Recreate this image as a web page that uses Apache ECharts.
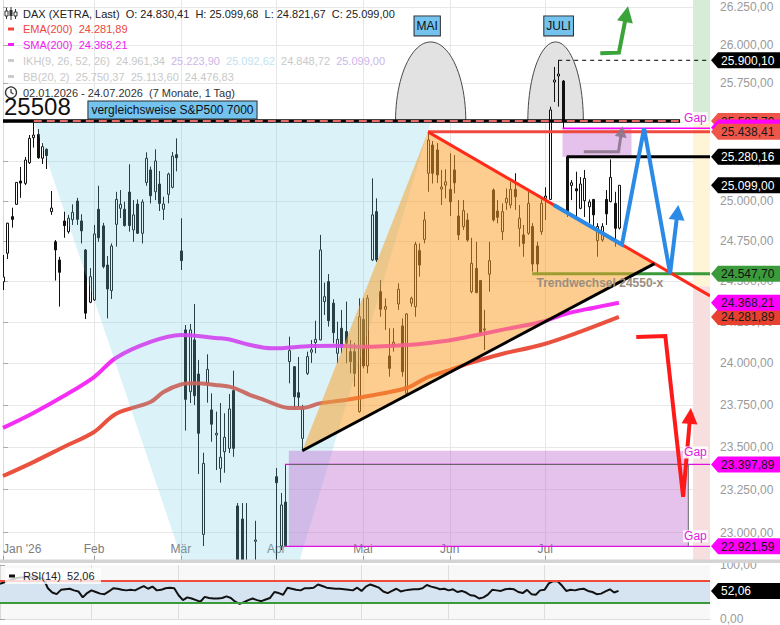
<!DOCTYPE html>
<html>
<head>
<meta charset="utf-8">
<script src="https://cdn.jsdelivr.net/npm/echarts@6.0.0/dist/echarts.min.js"></script>
<style>
html,body{margin:0;padding:0;background:#fff;}
#chart{width:780px;height:625px;}
</style>
</head>
<body>
<div id="chart"></div>
<script>
// ---------------- DATA ----------------
// trading days (Xetra 2026) + empty future days on the axis
const monthDays = [
  ['01', [2,5,6,7,8,9,12,13,14,15,16,19,20,21,22,23,26,27,28,29,30]],
  ['02', [2,3,4,5,6,9,10,11,12,13,16,17,18,19,20,23,24,25,26,27]],
  ['03', [2,3,4,5,6,9,10,11,12,13,16,17,18,19,20,23,24,25,26,27,30,31]],
  ['04', [1,2,7,8,9,10,13,14,15,16,17,20,21,22,23,24,27,28,29,30]],
  ['05', [4,5,6,7,8,11,12,13,14,15,18,19,20,21,22,25,26,27,28,29]],
  ['06', [1,2,3,4,5,8,9,10,11,12,15,16,17,18,19,22,23,24,25,26,29,30]],
  ['07', [1,2,3,6,7,8,9,10,13,14,15,16,17,20,21,22,23,24,27,28,29,30,31]],
  ['08', [3,4,5,6,7,10,11,12,13,14,17,18,19,20,21,24]]
];
const monthNames = ["Jan '26", 'Feb', 'Mär', 'Apr', 'Mai', 'Jun', 'Jul', 'Aug'];

// daily candles [open, high, low, close]
const ohlc = [
[24497,24663,24447,24527],[24674,24863,24638,24861],[24902,24958,24833,24885],[24979,25119,24975,25117],[25126,25215,25020,25113],
[25111,25278,25100,25259],[25242,25418,25234,25397],[25401,25499,25338,25418],[25422,25456,25267,25273],[25270,25367,25234,25344],
[25327,25333,25202,25287],[24933,25063,24913,24956],[24745,24756,24505,24694],[24632,24652,24345,24556],[24875,24933,24770,24846],
[24808,24913,24796,24892],[24883,24979,24850,24929],[25000,25020,24850,24885],[24875,24917,24735,24813],[24694,24700,24269,24305],
[24372,24582,24366,24529],[24386,24850,24380,24794],[24948,25096,24745,24770],[24844,24863,24580,24591],[24601,24657,24273,24453],
[24443,24735,24392,24719],[24854,25058,24715,25010],[24954,25069,24893,24979],[24948,24996,24840,24846],[25056,25232,24808,24846],
[24819,25006,24745,24913],[24981,25010,24794,24798],[24798,25010,24735,24994],[25117,25308,25096,25270],[25196,25217,24985,25033],
[25058,25327,25006,25253],[25107,25189,24937,24985],[24948,25027,24881,24981],[25042,25179,24985,25170],[25086,25310,25079,25284],
[25293,25397,25187,25273],[24688,24892,24570,24628],[24203,24233,23598,23784],[23830,24239,23762,24203],[24142,24361,23750,23806],
[23936,24021,23342,23582],[22990,23467,22923,23404],[23880,24055,23764,23964],[23721,23820,23532,23636],[23572,23711,23365,23582],
[23375,23762,23291,23440],[23473,23701,23349,23558],[23493,23816,23465,23727],[23836,23956,23443,23493],[23155,23172,22600,22700],
[23079,23172,22500,22620],[22750,23172,22550,22680],[22700,22830,22600,22780],[22950,23069,22780,22958],[22800,22840,22600,22700],
[22680,22820,22550,22760],[22760,22830,22620,22700],[22700,22840,22650,22800],[23326,23377,22750,23291],[22923,23231,22900,23161],
[23178,23397.89,22921.59,22925],[24011,24162,23880,24077],[23980,23984,23725,23800],[23824,24039,23739,23796],[23552,23751,23479,23725],
[23940,24071,23930,24041],[24068,24142,24003,24082],[24126,24259,24061,24146],[24142,24788,24140,24694],[24376,24492,24294,24406],
[24499,24545,24223,24259],[24366,24390,24122,24186],[24061,24253,24001,24146],[24213,24325,24061,24111],[24193,24376,24001,24122],
[24071,24142,23940,24011],[24071,24124,23860,23940],[23711,24396,23705,24283],[24267,24396,23970,23985],[23985,24416,23940,24396],
[24632,25143,24625,24913],[24933,25017,24620,24632],[24437,24509,24283,24329],[24329,24396,24203,24345],[24045,24213,23920,23970],
[24111,24213,24071,24128],[24361,24488,24325,24451],[24227,24273,23920,23950],[23820,24304,23815,24300],[24366,24406,24345,24396],
[24345,24745,24283,24729],[24690,24735,24529,24601],[24760,24933,24735,24881],[25175,25438.41,25058,25386],[25354,25380,25110,25175],
[25323,25367,25113,25164],[25075,25196,24975,25088],[25100,25200,25017,25121],[25073,25302,24906,24995],[25196,25291,25048,25115],
[24906,25006,24756,24788],[24840,25006,24819,24940],[24881,24923,24745,24756],[24437,24770,24427,24611],[24580,24745,24427,24431],
[24505,24509,24172,24186],[24203,24325,24081,24209],[24544,24745,24437,24628],[25069,25079,24871,24881],[24937,25006,24860,24898],
[24808,24985,24756,24933],[24989,25079,24944,25017],[24975,25121,24954,25073],[25073,25175,24944,25027],[24829,24975,24715,24892],
[24788,24850,24652,24735],[24798,25058,24788,24985],[24840,24861,24560,24607],[24719,24745,24547.70,24607],[24808,25010,24788,24985],
[25017,25086,24881,25031],[25010,25600,25006,25579],[25759,25857,25630,25772],[25798,25900.10,25600,25811],[25765,25772,25462,25514],
[25280.16,25280.16,24900,24931],[25098,25132,25006,25115],[25077,25185,24900,25064],[24954,25151,24948,25107],[25002,25196,24900,25143],
[24964,25010,24861,24994],[25010,25010,24829,24913],[24752,24861,24652,24840],[24756,24861,24745,24840],[25010,25069,24850,24919],
[24996,25263,24992,25149],[24985,25058,24715,24829],[24830.41,25099.68,24821.67,25099.00]
];

// moving averages read at sample days [dayIndex, value]
const emaPts = [[0,23330],[7,23412],[14,23501],[21,23590],[26,23697],[34,23768],[37,23828],[41,23873],[44,23880],[49,23870],
  [53,23854],[57,23810],[60,23783],[66,23733],[69,23733],[73,23760],[78,23777],[83,23798],[93,23852],[98,23918],[103,23960],
  [107,23997],[115,24057],[124,24111],[133,24191],[142,24281.89]];
const smaPts = [[0,23614],[7,23703],[14,23804],[21,23918],[26,24033],[34,24130],[41,24172],[45,24166],[49,24154],[52,24146],
  [57,24111],[62,24091],[71,24105],[77,24107],[83,24100],[93,24111],[102,24136],[107,24160],[115,24203],[124,24251],[130,24303],
  [136,24337],[142,24368.21]];

// RSI(14)
const rsi = [65,68,71,74,76,77,78,78,77,76,74,57,49,46,54,55,56,53,51,40,48,53,50,47,46,51,57,56,54,53,
  54,53,57,61,56,60,53,54,57,58,57,44,35,40,38,35,32,41,39,38,38,39,42,39,32,28,31,35,38,35,
  33,36,39,50,48,45,58,56,54,53,57,57,58,64,61,58,57,56,56,55,54,53,58,52,60,64,61,58,51,48,
  52,56,51,53,54,55,55,57,63,60,58,55,56,53,55,50,52,49,44,43,38,40,45,54,53,52,55,56,55,50,
  48,54,46,45,53,54,66,70,70,62,52,54,53,55,56,52,50,46,47,51,55,49,52.06];

const priceTicks = [23000,23250,23500,23750,24000,24250,24500,24750,25000,25250,25500,25750,26000,26250];
const rsiTicks = [0, 100];

// drawn annotations, anchored at [dayIndex, price]
const bandX = [159.1, 163];
const bandLevels = [26295.7, 25507.79, 24470, 22842.7];
const bandColors = ['#d6ecd6', '#fdf5d6', '#f8dfdf'];
const cyanZone = [[7.1,25507.79],[98.7,25507.79],[68.4,22842.7],[41.3,22842.7]];
const triLow = [69, 23479], triHigh = [98, 25438.41], triApex = [150.2, 24610];
const gapTopBox = [[129,25462],[144.9,25462],[144.9,25280.16],[129,25280.16]];
const gapLowBox = [[65.9,23479],[158,23479],[158,22921.59],[65.9,22921.59]];
const bells = [{c:98.6, w:8.1, base:25507.79, peak:26020}, {c:127.4, w:6.4, base:25507.79, peak:26020}];
const blueRoute = [[127,24975],[142.7,24728],[147.8,25461],[153.8,24547.7],[155.7,24975]];
const redRoute = [[146,24160],[152.7,24166],[156.8,23208],[158.6,23733]];
const greenRoute = [[137.7,25946],[142,25950],[144.1,26255]];
const grayRoute = [[133.9,25311],[141.9,25311],[142.8,25475]];
const tagList = [
  {v:25900.10, bg:'#000000', fg:'#ffffff'},
  {v:25507.79, bg:'#ef5548', fg:'#1a1a1a'},
  {v:25466, bg:'#ff00ff', fg:'#1a1a1a', noText:true},
  {v:25438.41, bg:'#ef5548', fg:'#1a1a1a'},
  {v:25280.16, bg:'#000000', fg:'#ffffff'},
  {v:25099.00, bg:'#000000', fg:'#ffffff'},
  {v:24547.70, bg:'#3b9b3b', fg:'#111111'},
  {v:24281.89, bg:'#e8412f', fg:'#1a1a1a'},
  {v:24368.21, bg:'#ff00ff', fg:'#1a1a1a'},
  {v:23397.89, bg:'#ff00ff', fg:'#1a1a1a'},
  {v:22921.59, bg:'#ff00ff', fg:'#1a1a1a'}
];
const rsiTag = [{v:52.06, bg:'#000000', fg:'#ffffff'}];

// ---------------- HELPERS ----------------
const LN = Math.log;
const Y_MIN = 22842.7, Y_MAX = 26295.7, X_END = 163, LAST = 142;
const FONT = '"Liberation Sans", Arial, sans-serif';
function de(v, d) {
  d = d === undefined ? 2 : d;
  let s = Math.abs(v).toFixed(d).split('.');
  let a = s[0].replace(/\B(?=(\d{3})+(?!\d))/g, '.');
  return (v < 0 ? '-' : '') + a + (d ? ',' + s[1] : '');
}
const dates = [], monthStart = {};
monthDays.forEach(function (md, mi) {
  md[1].forEach(function (d, k) {
    if (k === 0) monthStart[dates.length] = mi;
    dates.push('2026-' + md[0] + '-' + String(d).padStart(2, '0'));
  });
});
const isLabel = function (i) { return monthStart[i] !== undefined && i <= LAST; };
const isGrid = function (i) { return monthStart[i] !== undefined && i > 0 && i <= LAST; };
const toY = function (q) { return [q[0], LN(q[1])]; };

function poly(pts, fill, z, stroke, lw) {
  return {
    type: 'custom', xAxisIndex: 1, yAxisIndex: 0, z: z, clip: true, silent: true,
    data: [toY(pts[0])],
    renderItem: function (params, api) {
      return { type: 'polygon', shape: { points: pts.map(function (q) { return api.coord(toY(q)); }) },
        style: { fill: fill, stroke: stroke || null, lineWidth: lw || 0 } };
    }
  };
}
function route(pts, color, width, z, opt) {
  opt = opt || {};
  return {
    type: 'custom', xAxisIndex: 1, yAxisIndex: 0, z: z, clip: opt.noclip ? false : true, silent: true,
    data: [toY(pts[0])],
    renderItem: function (params, api) {
      let P = pts.map(function (q) { return api.coord(toY(q)); });
      const children = [];
      if (opt.arrow) {
        const b = P[P.length - 1], a = P[P.length - 2];
        const dx = b[0] - a[0], dy = b[1] - a[1], L = Math.hypot(dx, dy), ux = dx / L, uy = dy / L;
        const hl = opt.hl || 15, hw = opt.hw || 8;
        const base = [b[0] - ux * hl, b[1] - uy * hl];
        P = P.slice(0, -1).concat([[base[0] + ux * 2, base[1] + uy * 2]]);
        children.push({ type: 'polygon', shape: { points: [b, [base[0] - uy * hw, base[1] + ux * hw], [base[0] + uy * hw, base[1] - ux * hw]] },
          style: { fill: color } });
      }
      children.unshift({ type: 'polyline', shape: { points: P },
        style: { stroke: color, lineWidth: width, fill: null, lineDash: opt.dash || null, lineJoin: 'miter' } });
      return { type: 'group', children: children };
    }
  };
}
function bellSeries(b) {
  return {
    type: 'custom', xAxisIndex: 1, yAxisIndex: 0, z: 1, clip: true, silent: true,
    data: [[b.c, LN(b.base)]],
    renderItem: function (params, api) {
      const c = api.coord([b.c, LN(b.base)]), r = api.coord([b.c + b.w, LN(b.base)]), t = api.coord([b.c, LN(b.peak)]);
      const rx = r[0] - c[0], ry = c[1] - t[1], pts = [];
      for (let k = 0; k <= 48; k++) { const a = Math.PI * k / 48; pts.push([c[0] - rx * Math.cos(a), c[1] - ry * Math.sin(a)]); }
      return { type: 'polygon', shape: { points: pts }, style: { fill: '#e2e2e2', stroke: '#4a4a4a', lineWidth: 1 } };
    }
  };
}
function texts(list, z) {
  return {
    type: 'custom', xAxisIndex: 1, yAxisIndex: 0, z: z, clip: false, silent: true,
    data: list.map(function (a) { return [a.i, LN(a.p)]; }),
    renderItem: function (params, api) {
      const a = list[params.dataIndex], pt = api.coord([a.i, LN(a.p)]);
      return { type: 'text', x: pt[0] + (a.dx || 0), y: pt[1] + (a.dy || 0),
        style: { text: a.text, fill: a.color || '#111', font: a.font || ('12px ' + FONT), align: a.align || 'left',
          verticalAlign: 'middle', backgroundColor: a.bg || null, borderColor: a.bc || null, borderWidth: a.bw || 0,
          padding: a.pad || 0 } };
    }
  };
}
function tagSeries(list, xi, yi, yf, z) {
  return {
    type: 'custom', xAxisIndex: xi, yAxisIndex: yi, z: z, clip: false, silent: true,
    data: list.map(function (t) { return [X_END, yf(t.v)]; }),
    renderItem: function (params, api) {
      const t = list[params.dataIndex], pt = api.coord([X_END, yf(t.v)]);
      const x0 = pt[0], y0 = pt[1];
      const kids = [{ type: 'polygon', shape: { points: [[x0 + 1, y0], [x0 + 8, y0 - 8], [x0 + 72, y0 - 8], [x0 + 72, y0 + 8], [x0 + 8, y0 + 8]] },
        style: { fill: t.bg } }];
      if (!t.noText) kids.push({ type: 'text', x: x0 + 11, y: y0 + 0.5,
        style: { text: de(t.v), fill: t.fg, font: '12px ' + FONT, align: 'left', verticalAlign: 'middle' } });
      return { type: 'group', children: kids };
    }
  };
}
// candlesticks drawn through the category axis, clipped to the price pane
const candleSeries = {
  type: 'custom', xAxisIndex: 0, yAxisIndex: 0, z: 2, clip: true, silent: true,
  data: ohlc.map(function (r, i) { return [i, LN(r[0]), LN(r[3]), LN(r[2]), LN(r[1])]; }),
  encode: { x: 0, y: [1, 2, 3, 4] },
  renderItem: function (params, api) {
    const i = api.value(0), o = api.value(1), c = api.value(2), l = api.value(3), h = api.value(4);
    const po = api.coord([i, o]), pc = api.coord([i, c]), pl = api.coord([i, l]), ph = api.coord([i, h]);
    const x = Math.round(po[0]) + 0.5;
    const top = Math.min(po[1], pc[1]), bot = Math.max(po[1], pc[1]);
    const up = c >= o;
    return { type: 'group', children: [
      { type: 'line', shape: { x1: x, y1: ph[1], x2: x, y2: pl[1] }, style: { stroke: '#111111', lineWidth: 1 } },
      { type: 'rect', shape: { x: x - 1, y: top, width: 2, height: Math.max(bot - top, 1) },
        style: { fill: up ? '#ffffff' : '#111111', stroke: '#111111', lineWidth: 1 } }
    ] };
  }
};

// ---------------- DERIVED GEOMETRY ----------------
const redSlope = (LN(triApex[1]) - LN(triHigh[1])) / (triApex[0] - triHigh[0]);
const redEnd = [X_END, Math.exp(LN(triHigh[1]) + redSlope * (X_END - triHigh[0]))];

const annoTexts = [
  { text: 'vergleichsweise S&P500 7000', i: 19.7, p: 25579, bg: '#74c3ee', bc: '#2a2a2a', bw: 1, pad: [3, 3, 2, 3], color: '#111' },
  { text: 'MAI', i: 97.8, p: 26125, align: 'center', bg: '#74c3ee', bc: '#2a2a2a', bw: 1, pad: [4, 2, 3, 2], color: '#111' },
  { text: 'JULI', i: 128.1, p: 26125, align: 'center', bg: '#74c3ee', bc: '#2a2a2a', bw: 1, pad: [4, 2, 3, 2], color: '#111' },
  { text: 'Trendwechsel 24550-x', i: 123, p: 24490, font: 'bold 12px ' + FONT, color: '#9b8e80' },
  { text: 'Gap', i: 156.8, p: 25462, dy: -10, color: '#e020e0', bg: 'rgba(255,255,255,0.9)', pad: [0, 1] },
  { text: 'Gap', i: 156.8, p: 23397.89, dy: -12, color: '#e020e0', bg: 'rgba(255,255,255,0.9)', pad: [0, 1] },
  { text: 'Gap', i: 156.8, p: 22921.59, dy: -10, color: '#e020e0', bg: 'rgba(255,255,255,0.9)', pad: [0, 1] }
];

// ---------------- SERIES ----------------
const series = [];
for (let k = 0; k < 3; k++) {
  series.push(poly([[bandX[0], bandLevels[k]], [bandX[1], bandLevels[k]], [bandX[1], bandLevels[k + 1]], [bandX[0], bandLevels[k + 1]]], bandColors[k], 1));
}
bells.forEach(function (b) { series.push(bellSeries(b)); });

series.push(candleSeries);
series.push({ type: 'line', xAxisIndex: 1, yAxisIndex: 0, z: 2, data: emaPts.map(toY), smooth: 0.35, showSymbol: false, symbol: 'none', silent: true,
  lineStyle: { color: '#e8432f', width: 4, opacity: 0.92 } });
series.push({ type: 'line', xAxisIndex: 1, yAxisIndex: 0, z: 2, data: smaPts.map(toY), smooth: 0.35, showSymbol: false, symbol: 'none', silent: true,
  lineStyle: { color: '#f41cf4', width: 4, opacity: 0.92 } });
series.push(route([[122, 24547.70], [X_END, 24547.70]], '#3a9a3a', 3, 2));

series.push(poly(cyanZone, 'rgba(110,205,228,0.25)', 3));
series.push(poly([triLow, triHigh, triApex], 'rgba(250,160,40,0.52)', 3));
series.push(poly(gapTopBox, 'rgba(190,110,210,0.42)', 3));
series.push(poly(gapLowBox, 'rgba(190,110,210,0.42)', 3));

series.push(route([[0, 25507.79], [156.1, 25507.79]], '#000000', 3.5, 4));
series.push(route([[7.1, 25507.79], [156.1, 25507.79]], '#e46a6a', 2, 4, { dash: [8, 5] }));
series.push(route([[98, 25438.41], [X_END, 25438.41]], '#f04a40', 3, 4));
series.push(route([[129, 25462], [X_END, 25462]], '#ff00ff', 1.5, 4));
series.push(route([[130, 25280.16], [X_END, 25280.16]], '#000000', 3, 4));
series.push(route([[128, 25900.10], [X_END, 25900.10]], '#000000', 1, 4, { dash: [4, 4] }));
series.push(route([[65, 23397.89], [X_END, 23397.89]], '#e010e0', 1.2, 4));
series.push(route([[65, 22921.59], [X_END, 22921.59]], '#e010e0', 1.2, 4));
series.push(route([[65.9, 23397.89], [158, 23397.89], [158, 22921.59]], '#666666', 1, 4));
series.push(route([triHigh, redEnd], '#ff2a1a', 3, 4));
series.push(route([triLow, triApex], '#000000', 3, 4));
series.push(route(grayRoute, 'rgba(140,118,140,0.9)', 3, 4, { arrow: true, hl: 11, hw: 6 }));
series.push(route(blueRoute, '#2b8ae6', 4, 4, { arrow: true, hl: 15, hw: 8 }));
series.push(route(redRoute, '#ff1a1a', 4, 4, { arrow: true, hl: 16, hw: 8 }));
series.push(route(greenRoute, '#3aa43a', 4, 4, { arrow: true, hl: 16, hw: 8, noclip: true }));
series.push(texts(annoTexts, 5));
series.push(tagSeries(tagList, 1, 0, LN, 6));

series.push({
  type: 'line', xAxisIndex: 2, yAxisIndex: 1, data: rsi, showSymbol: false, symbol: 'none', silent: true, z: 3,
  lineStyle: { color: '#111', width: 2 },
  markArea: { silent: true, itemStyle: { color: '#d6e4f1' }, data: [[{ yAxis: 30 }, { yAxis: 70 }]] },
  markLine: { silent: true, symbol: 'none', label: { show: false },
    data: [{ yAxis: 70, lineStyle: { color: '#f04a3a', width: 2, type: 'solid' } }, { yAxis: 30, lineStyle: { color: '#3a9a3a', width: 2, type: 'solid' } }] }
});
series.push(tagSeries(rsiTag, 3, 1, function (v) { return v; }, 6));

// ---------------- TEXT / LEGEND ----------------
const lg = function (x, y, txt, fill, extra) {
  const s = { text: txt, fill: fill, font: '11px ' + FONT, align: 'left', verticalAlign: 'middle', textAlign: 'left', textVerticalAlign: 'middle' };
  if (extra) Object.assign(s, extra);
  return { type: 'text', x: x, y: y, z: 100, style: s };
};
const dash = function (y, c) { return { type: 'rect', z: 100, shape: { x: 8, y: y - 1.5, width: 6, height: 3 }, style: { fill: c } }; };
const graphic = [
  { type: 'rect', z: 90, shape: { x: 0, y: 559.5, width: 780, height: 3.5 }, style: { fill: '#d4d4d4' } },
  { type: 'line', z: 100, shape: { x1: 6.5, y1: 8, x2: 6.5, y2: 19 }, style: { stroke: '#333', lineWidth: 1 } },
  { type: 'line', z: 100, shape: { x1: 11, y1: 7, x2: 11, y2: 20 }, style: { stroke: '#333', lineWidth: 1 } },
  { type: 'line', z: 100, shape: { x1: 15.5, y1: 9, x2: 15.5, y2: 19 }, style: { stroke: '#333', lineWidth: 1 } },
  { type: 'rect', z: 101, shape: { x: 5, y: 11, width: 3, height: 5 }, style: { fill: '#fff', stroke: '#333', lineWidth: 1 } },
  { type: 'rect', z: 101, shape: { x: 9.5, y: 10, width: 3, height: 6 }, style: { fill: '#333' } },
  { type: 'rect', z: 101, shape: { x: 14, y: 12, width: 3, height: 4 }, style: { fill: '#fff', stroke: '#333', lineWidth: 1 } },
  lg(23, 13.5, 'DAX (XETRA, Last)  O: 24.830,41  H: 25.099,68  L: 24.821,67  C: 25.099,00', '#222'),
  dash(29, '#f0463c'), lg(23, 29, 'EMA(200)  24.281,89', '#f0463c'),
  dash(44.5, '#f020f0'), lg(23, 44.5, 'SMA(200)  24.368,21', '#f020f0'),
  dash(60.5, '#cccccc'),
  lg(23, 60.5, '{g|IKH(9, 26, 52, 26)  24.961,34  }{p|25.223,90}{g|  }{b|25.092,62}{g|  24.848,72  }{p|25.099,00}', '#c8c8c8',
    { rich: { g: { fill: '#c8c8c8', font: '11px ' + FONT }, p: { fill: '#cdb6e8', font: '11px ' + FONT }, b: { fill: '#bfe2f0', font: '11px ' + FONT } } }),
  dash(76.5, '#cccccc'), lg(23, 76.5, 'BB(20, 2)  25.750,37  25.113,60  24.476,83', '#c8c8c8'),
  { type: 'circle', z: 100, shape: { cx: 11, cy: 92.5, r: 5.5 }, style: { fill: 'none', stroke: '#333', lineWidth: 1.3 } },
  { type: 'polyline', z: 100, shape: { points: [[11, 89], [11, 92.5], [13.5, 94]] }, style: { fill: 'none', stroke: '#333', lineWidth: 1.2 } },
  lg(23, 92.5, '02.01.2026 - 24.07.2026  (7 Monate, 1 Tag)', '#333'),
  { type: 'text', x: 4, y: 106, z: 100, style: { text: '25508', fill: '#111', font: '24px ' + FONT, align: 'left', verticalAlign: 'middle', textAlign: 'left', textVerticalAlign: 'middle' } },
  { type: 'rect', z: 100, shape: { x: 5, y: 568, width: 96, height: 16 }, style: { fill: 'rgba(255,255,255,0.78)' } },
  { type: 'rect', z: 101, shape: { x: 9, y: 574.5, width: 6, height: 3 }, style: { fill: '#111' } },
  lg(23, 576, 'RSI(14)  52,06', '#222')
];

// ---------------- OPTION ----------------
const tickLn = priceTicks.map(LN);
const option = {
  animation: false,
  backgroundColor: '#ffffff',
  textStyle: { fontFamily: FONT },
  grid: [
    { left: 0, right: 70, top: 0, height: 560 },
    { left: 0, right: 70, top: 565, height: 57.6, show: true, backgroundColor: '#f8f8f8', borderWidth: 0 }
  ],
  xAxis: [
    { type: 'category', gridIndex: 0, data: dates, boundaryGap: false,
      axisLine: { show: false },
      axisTick: { show: true, inside: true, length: 4, interval: isLabel, lineStyle: { color: '#999' } },
      axisLabel: { show: true, inside: true, interval: isLabel, formatter: function (v, i) { return monthNames[monthStart[i]]; },
        color: '#7d7d7d', fontSize: 12, margin: 5, alignMinLabel: 'left', hideOverlap: false },
      splitLine: { show: true, interval: isGrid, lineStyle: { color: '#e6e6e6', width: 1 } } },
    { type: 'value', gridIndex: 0, min: 0, max: X_END, show: false },
    { type: 'category', gridIndex: 1, data: dates, boundaryGap: false,
      axisLine: { show: true, lineStyle: { color: '#dddddd' } }, axisTick: { show: false }, axisLabel: { show: false },
      splitLine: { show: true, interval: isGrid, lineStyle: { color: '#dedede' } } },
    { type: 'value', gridIndex: 1, min: 0, max: X_END, show: false }
  ],
  yAxis: [
    { type: 'value', gridIndex: 0, position: 'right', min: LN(Y_MIN), max: LN(Y_MAX),
      axisLine: { show: true, lineStyle: { color: '#d9d9d9' } },
      axisTick: { show: true, length: 5, customValues: tickLn, lineStyle: { color: '#aaaaaa' } },
      axisLabel: { show: true, customValues: tickLn, formatter: function (v) { return de(Math.round(Math.exp(v))); },
        color: '#9a9a9a', fontSize: 12, margin: 10 },
      splitLine: { show: true, lineStyle: { color: '#e8e8e8' } } },
    { type: 'value', gridIndex: 1, position: 'right', min: 0, max: 100,
      axisLine: { show: true, lineStyle: { color: '#d9d9d9' } },
      axisTick: { show: true, length: 5, customValues: rsiTicks, lineStyle: { color: '#aaaaaa' } },
      axisLabel: { show: true, customValues: rsiTicks, formatter: function (v) { return de(v); }, color: '#9a9a9a', fontSize: 12, margin: 10 },
      splitLine: { show: false } }
  ],
  series: series,
  graphic: graphic
};
const chart = echarts.init(document.getElementById('chart'), null, { renderer: 'svg', width: 780, height: 625 });
chart.setOption(option);
</script>
</body>
</html>
